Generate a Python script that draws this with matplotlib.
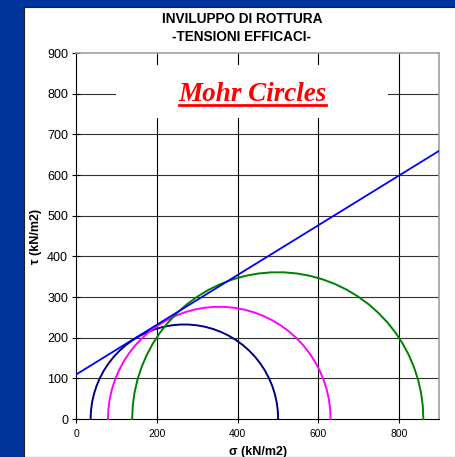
import numpy as np
import matplotlib
matplotlib.use("Agg")
import matplotlib.pyplot as plt
from matplotlib.patches import Rectangle
from matplotlib.lines import Line2D

# Mohr circles: minor / major principal effective stresses (kN/m2)
sigma3 = [35, 78, 138]
sigma1 = [500, 630, 860]
circle_colors = ["#000080", "#ff00ff", "#008000"]

# Failure envelope
env_sigma = [0, 900]
env_tau = [110, 660]

xticks = [0, 200, 400, 600, 800]
yticks = [0, 100, 200, 300, 400, 500, 600, 700, 800, 900]

plt.rcParams['font.family'] = ['Liberation Sans', 'DejaVu Sans']

W, H = 456, 457
fig = plt.figure(figsize=(W / 100, H / 100), dpi=100, facecolor="#003399")
# white panel
fig.patches.append(Rectangle((24 / W, 0), 1 - 24 / W, 1 - 7 / H, transform=fig.transFigure,
                             facecolor="white", edgecolor="#202020", linewidth=0.8, zorder=-10))

ax = fig.add_axes([76.5 / W, 1 - 419 / H, (439.5 - 76.5) / W, (419 - 53) / H])
ax.set_facecolor("white")
ax.set_xlim(0, 900)
ax.set_ylim(0, 900)

# grid
for xv in xticks[1:]:
    ax.axvline(xv, color="black", lw=0.8, zorder=1)
for yv in yticks[1:-1]:
    ax.axhline(yv, color="#303030", lw=0.8, zorder=1)

# circles
for s3, s1, c in zip(sigma3, sigma1, circle_colors):
    cen = (s1 + s3) / 2
    r = (s1 - s3) / 2
    th = np.linspace(np.pi, 0, 36)
    ax.plot(cen + r * np.cos(th), r * np.sin(th), color=c, lw=1.4, zorder=3, clip_on=False)

ax.plot(env_sigma, env_tau, color="#0000ff", lw=1.3, zorder=4)

# white box behind annotation
ax.add_patch(Rectangle((98, 740), 675, 130, facecolor="white", edgecolor="none", zorder=2))
ax.text(437, 783, "Mohr Circles", color="#ff0000", fontsize=19.5, fontweight="bold",
        fontstyle="italic", family=["Liberation Serif", "DejaVu Serif"],
        ha="center", va="baseline", zorder=5)
ax.add_line(Line2D([254, 619], [773, 773], color="#ff0000", lw=2.0, zorder=5))

for sp in ["top", "right"]:
    ax.spines[sp].set_color("#a0a0a0")
    ax.spines[sp].set_linewidth(1.2)
for sp in ["left", "bottom"]:
    ax.spines[sp].set_color("black")
    ax.spines[sp].set_linewidth(0.8)

ax.set_xticks(xticks)
ax.set_yticks(yticks)
ax.tick_params(axis="x", direction="inout", length=6, width=0.8, labelsize=7.5, pad=4)
ax.tick_params(axis="y", direction="inout", length=6, width=0.8, labelsize=9, pad=3)

ax.set_xlabel("σ (kN/m2)", fontsize=9, fontweight="bold", labelpad=5)
ax.set_ylabel("τ (kN/m2)", fontsize=9, fontweight="bold", labelpad=4)

fig.text(242 / W, 1 - 19 / H, "INVILUPPO DI ROTTURA", ha="center", va="center",
         fontsize=9.8, fontweight="bold")
fig.text(242 / W, 1 - 37 / H, "-TENSIONI EFFICACI-", ha="center", va="center",
         fontsize=9.8, fontweight="bold")

fig.savefig("out.png", dpi=100, facecolor=fig.get_facecolor())
